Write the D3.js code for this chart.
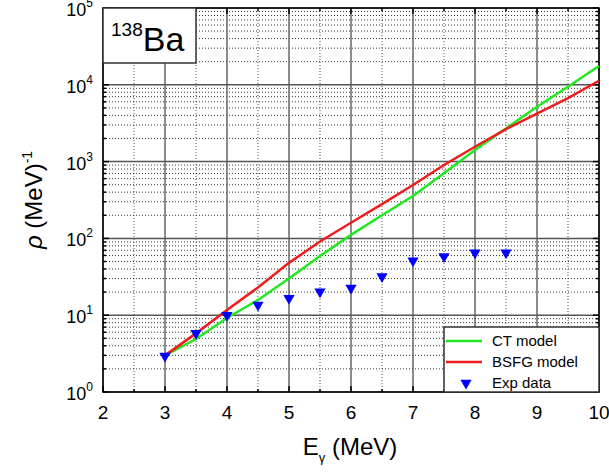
<!DOCTYPE html>
<html>
<head>
<meta charset="utf-8">
<script src="https://cdnjs.cloudflare.com/ajax/libs/d3/7.8.5/d3.min.js"></script>
<style>
body{margin:0;background:#fff;}
svg text{font-family:Arial,"Liberation Sans",sans-serif;fill:#000;}
</style>
</head>
<body>
<svg id="chart" width="609" height="474"></svg>
<script>
// energies (MeV)
var energies = [3,3.5,4,4.5,5,5.5,6,6.5,7,7.5,8,8.5,9,9.5,10];
var ctModel = [3,4.9,9.2,15.8,30,59,111,200,356,705,1416,2700,5190,9440,17600];
var bsfgModel = [3,5.8,11.7,23,48,91,160,280,496,903,1560,2650,4200,6700,11300];
// experimental points
var expE = [3,3.5,4,4.5,5,5.5,6,6.5,7,7.5,8,8.5];
var expRho = [2.95,5.8,10,13.6,16.6,20.2,22.6,32,51,58,65,65];
var xTicks = [2,3,4,5,6,7,8,9,10];
var yDecades = [0,1,2,3,4,5];

var svg = d3.select('#chart');
// plot frame (window.top is reserved, so no "top" here)
var pL = 103, pR = 599, pT = 8, pB = 392;

var x = d3.scaleLinear().domain([2,10]).range([pL,pR]);
var y = d3.scaleLog().domain([1,1e5]).range([pB,pT]);

// minor values for the log grid
var minorY = [];
yDecades.slice(0,-1).forEach(function(p){
    for(var k=2;k<=9;k++) minorY.push(k*Math.pow(10,p));
});
var halfX = [];
for(var i=0;i<xTicks.length-1;i++) halfX.push(xTicks[i]+0.5);

var grid = svg.append('g');
grid.selectAll('line.vmin').data(halfX).enter().append('line')
    .attr('x1',function(d){return x(d);}).attr('x2',function(d){return x(d);})
    .attr('y1',pT).attr('y2',pB)
    .attr('stroke','#555').attr('stroke-width',1).attr('stroke-dasharray','1,2');
grid.selectAll('line.hmin').data(minorY).enter().append('line')
    .attr('x1',pL).attr('x2',pR)
    .attr('y1',function(d){return y(d);}).attr('y2',function(d){return y(d);})
    .attr('stroke','#333').attr('stroke-width',1).attr('stroke-dasharray','1,2');
grid.selectAll('line.vmaj').data(xTicks).enter().append('line')
    .attr('x1',function(d){return x(d);}).attr('x2',function(d){return x(d);})
    .attr('y1',pT).attr('y2',pB)
    .attr('stroke','#666').attr('stroke-width',1.5);
grid.selectAll('line.hmaj').data(yDecades).enter().append('line')
    .attr('x1',pL).attr('x2',pR)
    .attr('y1',function(d){return y(Math.pow(10,d));}).attr('y2',function(d){return y(Math.pow(10,d));})
    .attr('stroke','#555').attr('stroke-width',1.5);

// axes with inward ticks
var tickVals = yDecades.map(function(d){return Math.pow(10,d);});
var allY = tickVals.concat(minorY);
function yTickLen(d){ return tickVals.indexOf(d)>=0 ? 6 : 3; }
[pL,pR].forEach(function(px){
    var dir = px==pL ? 1 : -1;
    svg.append('g').selectAll('line').data(allY).enter().append('line')
        .attr('x1',px).attr('x2',function(d){return px+dir*yTickLen(d);})
        .attr('y1',function(d){return y(d);}).attr('y2',function(d){return y(d);})
        .attr('stroke','#000').attr('stroke-width',1.5);
});
var allX = xTicks.concat(halfX);
[pB,pT].forEach(function(py){
    var dir = py==pB ? -1 : 1;
    svg.append('g').selectAll('line').data(allX).enter().append('line')
        .attr('x1',function(d){return x(d);}).attr('x2',function(d){return x(d);})
        .attr('y1',py).attr('y2',function(d){return py+dir*(xTicks.indexOf(d)>=0?6:3);})
        .attr('stroke','#000').attr('stroke-width',1.5);
});

svg.append('rect').attr('x',pL).attr('y',pT).attr('width',pR-pL).attr('height',pB-pT)
    .attr('fill','none').attr('stroke','#000').attr('stroke-width',1.5);

// tick labels
svg.append('g').selectAll('text').data(xTicks).enter().append('text')
    .attr('x',function(d){return x(d);}).attr('y',pB+27)
    .attr('text-anchor','middle').style('font-size','19px')
    .text(function(d){return d;});
var yl = svg.append('g').selectAll('text').data(yDecades).enter().append('text')
    .attr('x',pL-10).attr('y',function(d){return y(Math.pow(10,d))+8;})
    .attr('text-anchor','end').style('font-size','18px');
yl.append('tspan').text('10');
yl.append('tspan').attr('dy',-9).style('font-size','12px').text(function(d){return d;});

// curves
var line = d3.line().x(function(d){return x(d[0]);}).y(function(d){return y(d[1]);});
svg.append('path').datum(d3.zip(energies,ctModel)).attr('d',line)
    .attr('fill','none').attr('stroke','#1ee81e').attr('stroke-width',2.5);
svg.append('path').datum(d3.zip(energies,bsfgModel)).attr('d',line)
    .attr('fill','none').attr('stroke','#ee1c1c').attr('stroke-width',2.5);

var tri = d3.symbol().type(d3.symbolTriangle).size(55);
svg.append('g').selectAll('path').data(d3.zip(expE,expRho)).enter().append('path')
    .attr('d',tri)
    .attr('transform',function(d){return 'translate('+x(d[0])+','+y(d[1])+') rotate(180)';})
    .attr('fill','#0000ff');

// label box
svg.append('rect').attr('x',pL).attr('y',pT).attr('width',93).attr('height',55)
    .attr('fill','#fff').attr('stroke','#333').attr('stroke-width',1.5);
var lab = svg.append('text').attr('x',pL+8).attr('y',pT+43).style('font-size','34px');
lab.append('tspan').attr('dy',-15).style('font-size','19px').text('138');
lab.append('tspan').attr('dy',15).text('Ba');

// legend
var legNames = ['CT model','BSFG model','Exp data'];
var legColors = ['#1ee81e','#ee1c1c','#0000ff'];
var lx = 444, ly = 327;
svg.append('rect').attr('x',lx).attr('y',ly).attr('width',pR-lx).attr('height',pB-ly)
    .attr('fill','#fff').attr('stroke','#333').attr('stroke-width',1.5);
legNames.forEach(function(n,i){
    var yy = ly+14+i*21;
    if(i<2){
        svg.append('line').attr('x1',lx+2).attr('x2',lx+38).attr('y1',yy).attr('y2',yy)
            .attr('stroke',legColors[i]).attr('stroke-width',2.5);
    } else {
        svg.append('path').attr('d',tri).attr('transform','translate('+(lx+22)+','+yy+') rotate(180)')
            .attr('fill',legColors[i]);
    }
    svg.append('text').attr('x',lx+48).attr('y',yy+5).style('font-size','15px').text(n);
});

// axis titles
var xt = svg.append('text').attr('x',350).attr('y',455).attr('text-anchor','middle').style('font-size','24px');
xt.append('tspan').text('E');
xt.append('tspan').attr('dy',7).style('font-size','13px').text('γ');
xt.append('tspan').attr('dy',-7).text(' (MeV)');

var yt = svg.append('text').attr('transform','translate(42,200) rotate(-90)')
    .attr('text-anchor','middle').style('font-size','24px');
yt.append('tspan').style('font-style','italic').text('ρ');
yt.append('tspan').text(' (MeV)');
yt.append('tspan').attr('dy',-10).style('font-size','14px').text('-1');
</script>
</body>
</html>
